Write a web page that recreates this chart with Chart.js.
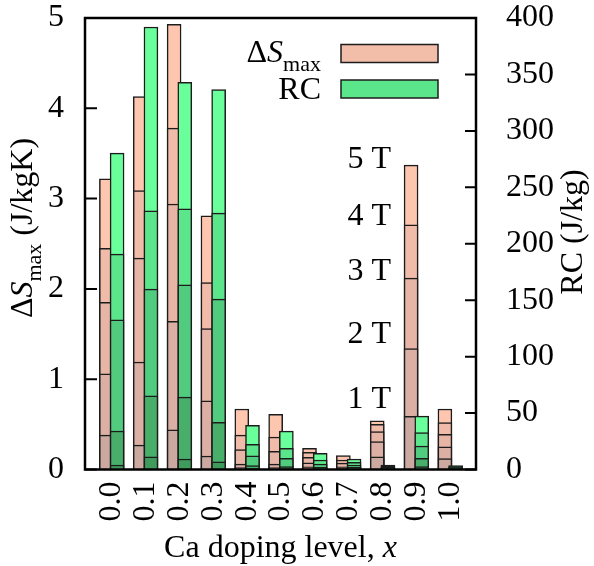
<!DOCTYPE html>
<html>
<head>
<meta charset="utf-8">
<script src="https://cdn.jsdelivr.net/npm/chart.js@4/dist/chart.umd.min.js"></script>
<style>
  html, body { margin: 0; padding: 0; background: #fff; }
</style>
</head>
<body>
<canvas id="chart" width="594" height="566"></canvas>
<script>
'use strict';

// Ca doping level x (category axis)
const dopingLevels = ['0.0', '0.1', '0.2', '0.3', '0.4', '0.5', '0.6', '0.7', '0.8', '0.9', '1.0'];
const fieldNames = ['1 T', '2 T', '3 T', '4 T', '5 T'];

// ΔS_max (J/kgK) per field
const entropy1T = [0.38, 0.27, 0.44, 0.15, 0.02, 0.02, 0.03, 0.01, 0.14, 0.59, 0.12];
const entropy2T = [1.06, 1.19, 1.64, 0.76, 0.06, 0.06, 0.075, 0.03, 0.31, 1.34, 0.25];
const entropy3T = [1.85, 2.34, 2.94, 1.56, 0.22, 0.20, 0.135, 0.07, 0.42, 2.12, 0.39];
const entropy4T = [2.45, 3.09, 3.78, 2.07, 0.38, 0.36, 0.19, 0.105, 0.50, 2.71, 0.52];
const entropy5T = [3.22, 4.13, 4.93, 2.81, 0.67, 0.61, 0.235, 0.153, 0.54, 3.37, 0.67];

// RC (J/kg) per field
const rc1T = [4.0, 11.3, 9.3, 6.9, 0.8, 0.5, 0.5, 0.5, 0.5, 2.5, 0.4];
const rc2T = [34.1, 65.2, 64.1, 41.8, 3.4, 2.5, 2.0, 2.0, 1.2, 9.9, 1.0];
const rc3T = [132.5, 159.8, 163.6, 150.9, 12.2, 9.9, 4.9, 4.0, 2.0, 20.8, 1.8];
const rc4T = [190.8, 229.2, 230.9, 227.1, 22.3, 18.8, 8.4, 6.4, 3.0, 32.6, 2.5];
const rc5T = [280.3, 392.0, 342.9, 336.5, 39.1, 34.0, 14.3, 9.3, 4.0, 47.3, 3.4];

const entropyTicks = [0, 1, 2, 3, 4, 5];
const rcTicks = [0, 50, 100, 150, 200, 250, 300, 350, 400];

// where the "n T" notes sit, in ΔS units
const fieldNoteLevels = [0.68, 1.40, 2.10, 2.71, 3.34];

const salmonShades = ['#CBA9A0', '#DBAFA4', '#E6B5A6', '#F0BBA8', '#FFC6AF'];
const greenShades = ['#3E9B5C', '#47AF6A', '#51CB7E', '#5CE68B', '#69FF9B'];

const SERIF = '"Liberation Serif", "Times New Roman", serif';
const FONT_SIZE = 32;
const SUB_SIZE = 22;

function barSet(values, color, axisId, shift, order) {
  return {
    data: values.map((v, i) => ({ x: i + shift, y: v })),
    yAxisID: axisId,
    backgroundColor: color,
    borderColor: '#1c1c1c',
    borderWidth: 1.5,
    barThickness: 14,
    grouped: false,
    order,
  };
}

const entropySeries = [entropy1T, entropy2T, entropy3T, entropy4T, entropy5T];
const rcSeries = [rc1T, rc2T, rc3T, rc4T, rc5T];

// 1 T drawn last (in front), RC bars in front of ΔS bars
const datasets = [
  ...rcSeries.map((vals, k) => barSet(vals, greenShades[k], 'y1', 0.158, k)),
  ...entropySeries.map((vals, k) => barSet(vals, salmonShades[k], 'y', -0.158, 5 + k)),
];

function drawRuns(ctx, runs, x, y, align) {
  const widths = runs.map((r) => { ctx.font = r.font; return ctx.measureText(r.text).width; });
  const total = widths.reduce((a, b) => a + b, 0);
  let cx = x;
  if (align === 'center') cx = x - total / 2;
  if (align === 'right') cx = x - total;
  ctx.textAlign = 'left';
  ctx.textBaseline = 'alphabetic';
  runs.forEach((r, i) => {
    ctx.font = r.font;
    ctx.fillText(r.text, cx, y + (r.dy || 0));
    cx += widths[i];
  });
}

const regular = `${FONT_SIZE}px ${SERIF}`;
const italic = `italic ${FONT_SIZE}px ${SERIF}`;
const sub = `${SUB_SIZE}px ${SERIF}`;

const decorations = {
  id: 'decorations',
  afterDraw(chart) {
    const { ctx, chartArea: a, scales } = chart;
    ctx.save();
    ctx.fillStyle = '#000';
    ctx.strokeStyle = '#000';

    // inward tick marks
    ctx.lineWidth = 2;
    ctx.beginPath();
    entropyTicks.forEach((v) => {
      const y = scales.y.getPixelForValue(v);
      ctx.moveTo(a.left, y);
      ctx.lineTo(a.left + 12, y);
    });
    rcTicks.forEach((v) => {
      const y = scales.y1.getPixelForValue(v);
      ctx.moveTo(a.right, y);
      ctx.lineTo(a.right - 11, y);
    });
    ctx.stroke();

    // frame
    ctx.lineWidth = 2.5;
    ctx.strokeRect(a.left, a.top, a.right - a.left, a.bottom - a.top);

    // left axis title
    ctx.save();
    ctx.translate(32, 228);
    ctx.rotate(-Math.PI / 2);
    drawRuns(ctx, [
      { text: 'Δ', font: regular },
      { text: 'S', font: italic },
      { text: 'max', font: sub, dy: 9 },
      { text: ' (J/kgK)', font: regular },
    ], 0, 0, 'center');
    ctx.restore();

    // right axis title
    ctx.save();
    ctx.translate(582, 232);
    ctx.rotate(-Math.PI / 2);
    drawRuns(ctx, [{ text: 'RC (J/kg)', font: regular }], 0, 0, 'center');
    ctx.restore();

    // bottom axis title
    drawRuns(ctx, [
      { text: 'Ca doping level, ', font: regular },
      { text: 'x', font: italic },
    ], (a.left + a.right) / 2, 557, 'center');

    // legend
    const boxLeft = 341;
    const boxW = 97;
    const boxH = 18;
    drawRuns(ctx, [
      { text: 'Δ', font: regular },
      { text: 'S', font: italic },
      { text: 'max', font: sub, dy: 9 },
    ], 321, 62, 'right');
    drawRuns(ctx, [{ text: 'RC', font: regular }], 321, 99, 'right');
    ctx.lineWidth = 1.5;
    ctx.strokeStyle = '#1c1c1c';
    ctx.fillStyle = '#F2BEAA';
    ctx.fillRect(boxLeft, 44.5, boxW, boxH);
    ctx.strokeRect(boxLeft, 44.5, boxW, boxH);
    ctx.fillStyle = '#5CE68B';
    ctx.fillRect(boxLeft, 80, boxW, boxH);
    ctx.strokeRect(boxLeft, 80, boxW, boxH);

    // field notes
    ctx.fillStyle = '#000';
    const noteX = scales.x.getPixelForValue(8.25);
    fieldNames.forEach((name, k) => {
      drawRuns(ctx, [{ text: name, font: regular }], noteX, scales.y.getPixelForValue(fieldNoteLevels[k]), 'right');
    });

    ctx.restore();
  },
};

const tickFont = { family: SERIF, size: FONT_SIZE };

function fixVertical(width) {
  return (axis) => {
    axis.width = width;
    axis.paddingTop = 0;
    axis.paddingBottom = 0;
  };
}

new Chart(document.getElementById('chart'), {
  type: 'bar',
  data: { datasets },
  options: {
    responsive: false,
    animation: false,
    devicePixelRatio: 1,
    layout: { padding: { top: 18, left: 0, right: 0, bottom: 0 } },
    plugins: {
      legend: { display: false },
      tooltip: { enabled: false },
    },
    scales: {
      x: {
        type: 'linear',
        min: -0.79,
        max: 10.76,
        offset: false,
        grid: { display: false, drawTicks: false, offset: false },
        border: { display: false },
        afterBuildTicks: (axis) => {
          axis.ticks = dopingLevels.map((_, i) => ({ value: i }));
        },
        afterFit: (axis) => {
          axis.height = 96.5;
          axis.paddingLeft = 0;
          axis.paddingRight = 0;
        },
        ticks: {
          autoSkip: false,
          minRotation: 90,
          maxRotation: 90,
          padding: 12,
          color: '#000',
          font: tickFont,
          callback: (value, index) => dopingLevels[index],
        },
      },
      y: {
        position: 'left',
        min: 0,
        max: 5,
        grid: { display: false, drawTicks: false },
        border: { display: false },
        afterFit: fixVertical(85),
        ticks: { stepSize: 1, padding: 21, color: '#000', font: tickFont },
      },
      y1: {
        position: 'right',
        min: 0,
        max: 400,
        grid: { display: false, drawTicks: false },
        border: { display: false },
        afterFit: fixVertical(118),
        ticks: { stepSize: 50, padding: 30, color: '#000', font: tickFont },
      },
    },
  },
  plugins: [decorations],
});
</script>
</body>
</html>
